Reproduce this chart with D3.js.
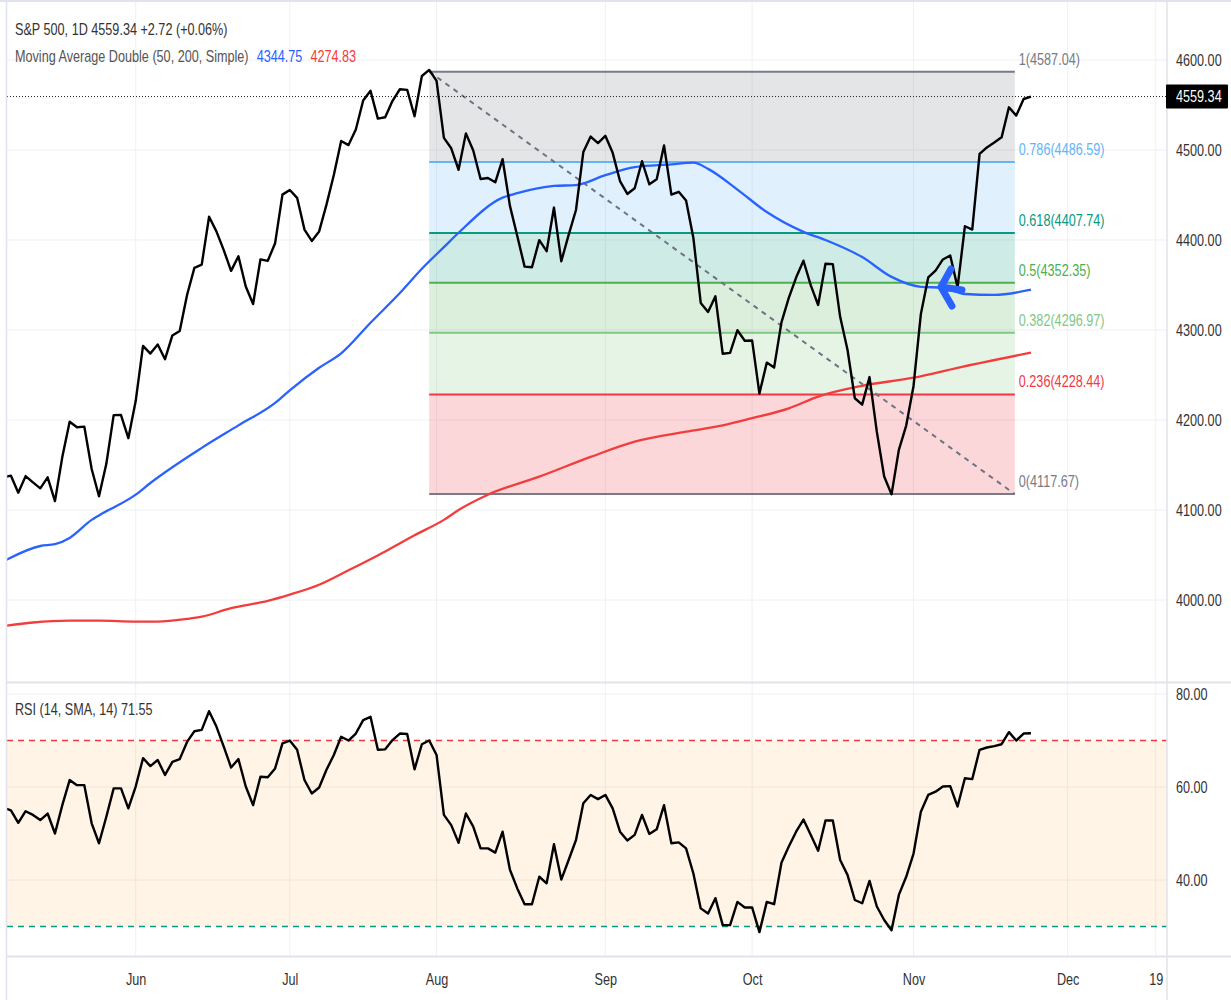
<!DOCTYPE html>
<html><head><meta charset="utf-8">
<script src="https://cdn.jsdelivr.net/npm/d3@7"></script>
<style>
html,body{margin:0;padding:0;background:#fff;}
svg{display:block;}
text{font-family:"Liberation Sans Narrow","Liberation Sans",Arial,sans-serif;font-size:16px;}
</style></head><body>
<svg id="chart" width="1231" height="1000"></svg>
<script>
// ---------- DATA ----------
const dates = ["05-05","05-08","05-09","05-10","05-11","05-12","05-15","05-16","05-17","05-18","05-19","05-22","05-23","05-24","05-25","05-26","05-30","05-31",
"06-01","06-02","06-05","06-06","06-07","06-08","06-09","06-12","06-13","06-14","06-15","06-16","06-20","06-21","06-22","06-23","06-26","06-27","06-28","06-29","06-30",
"07-03","07-05","07-06","07-07","07-10","07-11","07-12","07-13","07-14","07-17","07-18","07-19","07-20","07-21","07-24","07-25","07-26","07-27","07-28","07-31",
"08-01","08-02","08-03","08-04","08-07","08-08","08-09","08-10","08-11","08-14","08-15","08-16","08-17","08-18","08-21","08-22","08-23","08-24","08-25","08-28","08-29","08-30","08-31",
"09-01","09-05","09-06","09-07","09-08","09-11","09-12","09-13","09-14","09-15","09-18","09-19","09-20","09-21","09-22","09-25","09-26","09-27","09-28","09-29",
"10-02","10-03","10-04","10-05","10-06","10-09","10-10","10-11","10-12","10-13","10-16","10-17","10-18","10-19","10-20","10-23","10-24","10-25","10-26","10-27","10-30","10-31",
"11-01","11-02","11-03","11-06","11-07","11-08","11-09","11-10","11-13","11-14","11-15","11-16","11-17","11-20","11-21","11-22","11-24"];

const closes = [4136.25,4138.12,4119.17,4137.64,4130.62,4124.08,4136.28,4109.90,4158.77,4198.05,4191.98,4192.63,4145.58,4115.24,4151.28,4205.45,4205.52,4179.83,
4221.02,4282.37,4273.79,4283.85,4267.52,4293.93,4298.86,4338.93,4369.01,4372.59,4425.84,4409.59,4388.71,4365.69,4381.89,4348.33,4328.82,4378.41,4376.86,4396.44,4450.38,
4455.59,4446.82,4411.59,4398.95,4409.53,4439.26,4472.16,4510.04,4505.42,4522.79,4554.98,4565.72,4534.87,4536.34,4554.64,4567.46,4566.75,4537.41,4582.23,4588.96,
4576.73,4513.39,4501.89,4478.03,4518.44,4499.38,4467.71,4468.83,4464.05,4489.72,4437.86,4404.33,4370.36,4369.71,4399.77,4387.55,4436.01,4376.31,4405.71,4433.31,4497.63,4514.87,4507.66,
4515.77,4496.83,4465.48,4451.14,4457.49,4487.46,4461.90,4467.44,4505.10,4450.32,4453.53,4443.95,4402.20,4330.00,4320.06,4337.44,4273.53,4274.51,4299.70,4288.05,
4288.39,4229.45,4263.75,4258.19,4308.50,4335.66,4358.24,4376.95,4349.61,4327.78,4373.63,4373.20,4314.60,4278.00,4224.16,4217.04,4247.68,4186.77,4137.23,4117.37,4166.82,4193.80,
4237.86,4317.78,4358.34,4365.98,4378.38,4382.78,4347.35,4415.24,4411.55,4495.70,4502.88,4508.24,4514.02,4547.38,4538.19,4556.62,4559.34];

const rsiValues = [55.5,55.0,52.3,54.8,54.0,52.9,54.3,50.0,56.1,61.5,60.4,60.4,52.2,47.9,53.6,59.7,59.7,55.4,
60.1,66.2,64.5,65.8,62.6,65.4,66.0,69.7,72.0,72.3,76.3,73.0,68.7,64.2,66.0,60.1,56.1,62.2,62.1,64.0,69.4,
70.0,68.0,61.5,58.6,59.9,63.7,66.9,70.8,70.0,71.5,74.4,75.1,68.0,68.1,70.1,71.5,71.4,63.8,69.2,70.0,
66.9,54.0,51.8,48.0,54.3,51.5,46.8,46.8,45.9,50.4,42.2,38.2,34.8,34.8,40.7,39.3,47.7,40.1,44.3,48.6,56.5,58.3,57.4,
58.3,55.4,50.4,48.5,49.7,54.0,49.9,50.9,56.1,47.9,48.1,46.8,41.4,33.9,32.8,36.1,30.3,30.3,35.3,34.1,
34.1,28.8,35.3,34.8,43.7,47.2,50.4,53.0,49.7,46.3,52.8,52.8,44.3,41.1,35.7,35.0,39.8,34.3,31.4,29.2,36.8,40.7,
45.7,54.7,58.3,59.0,60.1,60.2,55.8,61.9,61.7,68.0,68.5,68.8,69.2,71.8,70.0,71.5,71.55];

// moving averages read at sample bars
const ma50Bars = [0,5,7,9,12,13,18,20,27,32,37,39,43,46,50,54,57,60,62,68,70,75,78,82,86,91,94,96,100,104,109,112,117,121,125,128,131,135,140];
const ma50Vals = [4043,4060,4062,4069,4089,4094,4117,4130,4169,4194,4219,4233,4258,4274,4308,4341,4368,4392,4408,4447,4452,4460,4461,4472,4481,4484,4486,4479,4456,4431,4409,4400,4381,4359,4348,4347,4340,4339,4344.75];
const ma200Bars = [0,4,9,13,18,21,25,27,31,36,39,43,47,52,56,60,62,66,73,80,86,93,98,102,107,111,117,124,130,140];
const ma200Vals = [3971,3975,3977,3977,3976,3976,3979,3981.5,3991,3999,4006,4017,4033,4054,4072,4089,4100,4117,4137,4159,4176,4187,4194,4202,4213,4226,4238,4247,4258,4274.83];

const priceTicks = [4000,4100,4200,4300,4400,4500,4600];
const rsiTicks = [40,60,80];
const rsiUpper = 70, rsiLower = 30;
const monthLabels = ["Jun","Jul","Aug","Sep","Oct","Nov","Dec","19"];
const monthBars = [18,39,59,82,102,124,145,157];

const fibRatios = ["1","0.786","0.618","0.5","0.382","0.236","0"];
const fibValues = [4587.04,4486.59,4407.74,4352.35,4296.97,4228.44,4117.67];
const fibColors = ["#787b86","#64b5f6","#089981","#4caf50","#81c784","#f23645","#787b86"];
const fibStartBar = 58, fibEndBar = 137.8;
const arrowTip = {bar:127.6, value:4347.8};

const lastClose = 4559.34;
const title = "S&P 500, 1D  4559.34  +2.72 (+0.06%)";
const maTitle = "Moving Average Double (50, 200, Simple)";
const ma50Last = "4344.75", ma200Last = "4274.83";
const rsiTitle = "RSI (14, SMA, 14)  71.55";

// ---------- LAYOUT ----------
const W = 1231, H = 1000;
const left = 7, right = 1167;
const pTop = 2, pBottom = 682, rTop = 683, rBottom = 956;
const squeeze = 0.79; // condensed text look

const svg = d3.select("#chart");
const x = d3.scaleLinear().domain([0.463, 158.54]).range([left, right]);
const y = d3.scaleLinear().domain([3908.9, 4664.4]).range([pBottom, pTop]);
const yr = d3.scaleLinear().domain([23.66, 82.37]).range([rBottom, rTop]);

const defs = svg.append("defs");
defs.append("clipPath").attr("id","clipP").append("rect").attr("x",left).attr("y",pTop).attr("width",right-left).attr("height",pBottom-pTop);
defs.append("clipPath").attr("id","clipR").append("rect").attr("x",left).attr("y",rTop).attr("width",right-left).attr("height",rBottom-rTop);

const gridC = "#eef0f4";
const gP = svg.append("g");
gP.selectAll("line.h").data(priceTicks).join("line")
  .attr("x1",left).attr("x2",right).attr("y1",d=>y(d)).attr("y2",d=>y(d)).attr("stroke",gridC).attr("stroke-width",1);
gP.selectAll("line.v").data(monthBars).join("line").attr("class","v")
  .attr("x1",d=>x(d)).attr("x2",d=>x(d)).attr("y1",pTop).attr("y2",pBottom).attr("stroke",gridC).attr("stroke-width",1);
const gR = svg.append("g");
gR.selectAll("line.h").data(rsiTicks).join("line")
  .attr("x1",left).attr("x2",right).attr("y1",d=>yr(d)).attr("y2",d=>yr(d)).attr("stroke",gridC).attr("stroke-width",1);
gR.selectAll("line.v").data(monthBars).join("line").attr("class","v")
  .attr("x1",d=>x(d)).attr("x2",d=>x(d)).attr("y1",rTop).attr("y2",rBottom).attr("stroke",gridC).attr("stroke-width",1);

// ---------- FIB ----------
const fibG = svg.append("g").attr("clip-path","url(#clipP)");
const fx0 = x(fibStartBar), fx1 = x(fibEndBar);
for (let k=0;k<fibValues.length-1;k++){
  fibG.append("rect").attr("x",fx0).attr("width",fx1-fx0)
    .attr("y",y(fibValues[k])).attr("height",y(fibValues[k+1])-y(fibValues[k]))
    .attr("fill",fibColors[k]).attr("fill-opacity",0.2);
}
fibG.selectAll("line.fib").data(fibValues).join("line")
  .attr("x1",fx0).attr("x2",fx1).attr("y1",d=>y(d)).attr("y2",d=>y(d))
  .attr("stroke",(d,i)=>fibColors[i]).attr("stroke-width",2);
svg.append("g").selectAll("text").data(fibValues).join("text")
  .attr("x",fx1+4).attr("y",d=>y(d)-12.5).attr("dy","0.35em")
  .attr("fill",(d,i)=>fibColors[i])
  .text((d,i)=>fibRatios[i]+"("+d.toFixed(2)+")");
fibG.append("line").attr("x1",fx0).attr("y1",y(fibValues[0])).attr("x2",fx1).attr("y2",y(fibValues[fibValues.length-1]))
  .attr("stroke","#6f7280").attr("stroke-width",2).attr("stroke-dasharray","5,5");

// ---------- PRICE PANE LINES ----------
const plot = svg.append("g").attr("clip-path","url(#clipP)");
plot.append("line").attr("x1",left).attr("x2",right).attr("y1",y(lastClose)).attr("y2",y(lastClose))
  .attr("stroke","#222").attr("stroke-width",1).attr("stroke-dasharray","1,2");
const maLine = d3.line().x(d=>x(d[0])).y(d=>y(d[1])).curve(d3.curveMonotoneX);
plot.append("path").datum(ma200Bars.map((b,i)=>[b,ma200Vals[i]])).attr("d",maLine)
  .attr("fill","none").attr("stroke","#f23d3d").attr("stroke-width",2.3);
plot.append("path").datum(ma50Bars.map((b,i)=>[b,ma50Vals[i]])).attr("d",maLine)
  .attr("fill","none").attr("stroke","#2962ff").attr("stroke-width",2.3);
plot.append("path").datum(closes).attr("d",d3.line().x((d,i)=>x(i)).y(d=>y(d)))
  .attr("fill","none").attr("stroke","#000").attr("stroke-width",2.4).attr("stroke-linejoin","round");
const ax = x(arrowTip.bar), ay = y(arrowTip.value);
plot.append("path")
  .attr("d",`M${ax+11},${ay-18} L${ax+1},${ay} L${ax+12},${ay+19} M${ax+1},${ay} L${ax+22},${ay+3}`)
  .attr("fill","none").attr("stroke","#2962ff").attr("stroke-width",7).attr("stroke-linejoin","round").attr("stroke-linecap","round");

// ---------- RSI ----------
const rG = svg.append("g").attr("clip-path","url(#clipR)");
rG.append("rect").attr("x",left).attr("width",right-left).attr("y",yr(rsiUpper)).attr("height",yr(rsiLower)-yr(rsiUpper))
  .attr("fill","#ff9800").attr("fill-opacity",0.1);
rG.append("line").attr("x1",left).attr("x2",right).attr("y1",yr(rsiUpper)).attr("y2",yr(rsiUpper))
  .attr("stroke","#f23645").attr("stroke-width",1.5).attr("stroke-dasharray","6,5");
rG.append("line").attr("x1",left).attr("x2",right).attr("y1",yr(rsiLower)).attr("y2",yr(rsiLower))
  .attr("stroke","#089981").attr("stroke-width",1.5).attr("stroke-dasharray","6,5");
rG.append("path").datum(rsiValues).attr("d",d3.line().x((d,i)=>x(i)).y(d=>yr(d)))
  .attr("fill","none").attr("stroke","#000").attr("stroke-width",2.4).attr("stroke-linejoin","round");

// ---------- FRAME ----------
const frameC = "#e0e3eb";
svg.append("line").attr("x1",0).attr("x2",W).attr("y1",1).attr("y2",1).attr("stroke",frameC).attr("stroke-width",2);
svg.append("line").attr("x1",left).attr("x2",W).attr("y1",pBottom+0.5).attr("y2",pBottom+0.5).attr("stroke",frameC).attr("stroke-width",2);
svg.append("line").attr("x1",left).attr("x2",W).attr("y1",rBottom+0.5).attr("y2",rBottom+0.5).attr("stroke",frameC).attr("stroke-width",2);
svg.append("line").attr("x1",left-0.5).attr("x2",left-0.5).attr("y1",0).attr("y2",H).attr("stroke",frameC).attr("stroke-width",1.5);
svg.append("line").attr("x1",right).attr("x2",right).attr("y1",0).attr("y2",H).attr("stroke",frameC).attr("stroke-width",1.5);

// ---------- AXES ----------
const axisC = "#333";
function styleAxis(g){
  g.select(".domain").remove();
  g.selectAll("text").attr("fill",axisC).style("font-size","16px").style("font-family",null);
}
svg.append("g").attr("transform",`translate(${right},0)`)
  .call(d3.axisRight(y).tickValues(priceTicks).tickSize(0).tickPadding(9).tickFormat(d3.format(".2f"))).call(styleAxis);
svg.append("g").attr("transform",`translate(${right},0)`)
  .call(d3.axisRight(yr).tickValues(rsiTicks).tickSize(0).tickPadding(9).tickFormat(d3.format(".2f"))).call(styleAxis);
svg.append("g").attr("transform",`translate(0,${rBottom+18})`)
  .call(d3.axisBottom(x).tickValues(monthBars).tickSize(0).tickPadding(0).tickFormat((d,i)=>monthLabels[i])).call(styleAxis);

// last price tag
const lp = y(lastClose);
svg.append("rect").attr("x",right-1).attr("y",lp-12).attr("width",62).attr("height",24).attr("fill","#000").attr("rx",1);
svg.append("text").attr("x",right+9).attr("y",lp).attr("dy","0.35em").attr("fill","#fff").text(lastClose.toFixed(2));

// ---------- LEGENDS ----------
svg.append("text").attr("x",15).attr("y",35).attr("fill","#333").text(title);
const maT = svg.append("text").attr("x",15).attr("y",62).attr("fill","#555").text(maTitle);
const maA = svg.append("text").attr("y",62).attr("fill","#2962ff").text(ma50Last);
const maB = svg.append("text").attr("y",62).attr("fill","#f23d3d").text(ma200Last);
svg.append("text").attr("x",15).attr("y",715).attr("fill","#333").text(rsiTitle);

// position the MA values after the (condensed) title
const xA = 15 + maT.node().getComputedTextLength()*squeeze + 8;
maA.attr("x", xA);
maB.attr("x", xA + maA.node().getComputedTextLength()*squeeze + 8);

// condensed text rendering: scale each text horizontally around its anchor x
svg.selectAll("text").each(function(){
  const x0 = +(this.getAttribute("x") || 0);
  this.setAttribute("transform", `translate(${x0},0) scale(${squeeze},1) translate(${-x0},0)`);
});
</script>
</body></html>
